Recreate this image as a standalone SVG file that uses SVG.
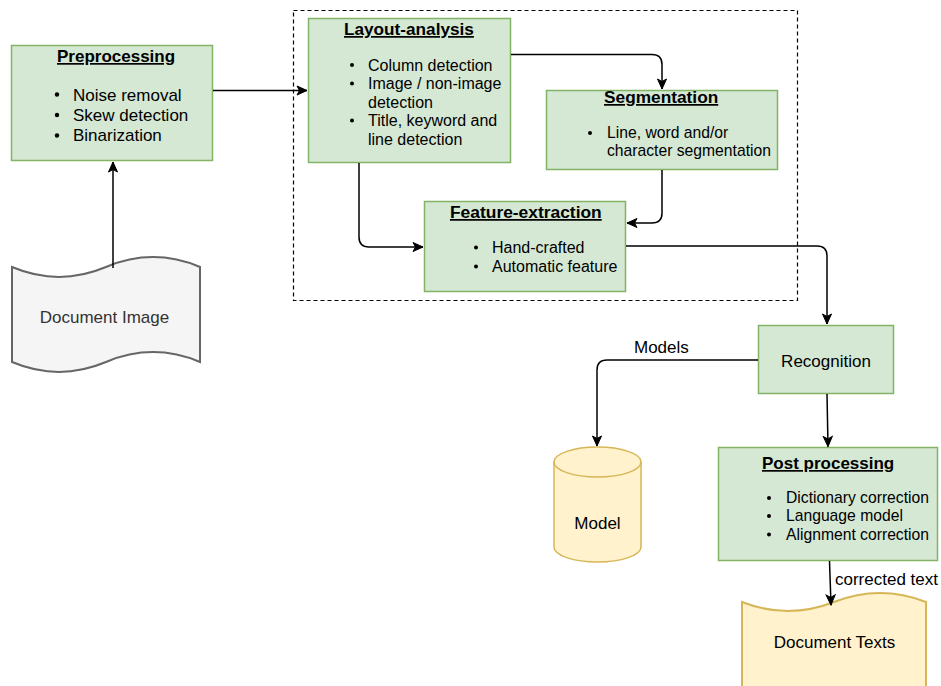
<svg xmlns="http://www.w3.org/2000/svg" width="941" height="686" viewBox="0 0 941 686">
<style>
  text { font-family: "Liberation Sans", Arial, Helvetica, sans-serif; fill: #000; }
  .box { fill: #d5e8d4; stroke: #82b366; stroke-width: 1.5; }
  .ttl { font-weight: bold; font-size: 17px; text-decoration: underline; }
  .t17 { font-size: 17px; }
  .t16 { font-size: 16px; }
  .t157 { font-size: 15.7px; }
  .dot { fill: #000; }
  .edge { fill: none; stroke: #000; stroke-width: 1.5; }
</style>
<defs>
  <marker id="arr" markerUnits="userSpaceOnUse" markerWidth="12" markerHeight="12" viewBox="0 0 12 10" refX="11" refY="5" orient="auto">
    <path d="M1,0.5 L11,5 L1,9.5 L3.5,5 Z" fill="#000" stroke="#000" stroke-width="1"/>
  </marker>
</defs>

<rect id="group-box" x="293.5" y="10.5" width="504" height="290" fill="none" stroke="#000" stroke-width="1.2" stroke-dasharray="4 3"/>

<g id="preprocessing">
  <rect class="box" x="11.5" y="45.5" width="201" height="115"/>
  <text class="ttl" x="57" y="62">Preprocessing</text>
  <circle class="dot" cx="57" cy="94.5" r="2.2"/>
  <circle class="dot" cx="57" cy="115" r="2.2"/>
  <circle class="dot" cx="57" cy="135.5" r="2.2"/>
  <text class="t17" x="73" y="100.5">Noise removal</text>
  <text class="t17" x="73" y="120.5">Skew detection</text>
  <text class="t17" x="73" y="141">Binarization</text>
</g>

<g id="layout-analysis">
  <rect class="box" x="308.5" y="18.5" width="202" height="144"/>
  <text class="ttl" x="344" y="35" style="font-size:17.2px">Layout-analysis</text>
  <circle class="dot" cx="352" cy="65" r="2"/>
  <circle class="dot" cx="352" cy="83.5" r="2"/>
  <circle class="dot" cx="352" cy="120.5" r="2"/>
  <text class="t16" x="368" y="70.5">Column detection</text>
  <text class="t16" x="368" y="89">Image / non-image</text>
  <text class="t16" x="368" y="107.5">detection</text>
  <text class="t16" x="368" y="126">Title, keyword and</text>
  <text class="t16" x="368" y="144.5">line detection</text>
</g>

<g id="segmentation">
  <rect class="box" x="546.5" y="90.5" width="231" height="79"/>
  <text class="ttl" x="604" y="103" style="font-size:17.3px">Segmentation</text>
  <circle class="dot" cx="590" cy="133" r="2"/>
  <text class="t157" x="607" y="138">Line, word and/or</text>
  <text class="t157" x="607" y="155.5">character segmentation</text>
</g>

<g id="feature-extraction">
  <rect class="box" x="424.5" y="201.5" width="201" height="90"/>
  <text class="ttl" x="450" y="218" style="font-size:17.4px">Feature-extraction</text>
  <circle class="dot" cx="476" cy="247.5" r="2"/>
  <circle class="dot" cx="476" cy="266.5" r="2"/>
  <text class="t16" x="492" y="253">Hand-crafted</text>
  <text class="t16" x="492" y="271.5">Automatic feature</text>
</g>

<g id="recognition">
  <rect class="box" x="758.5" y="325.5" width="135" height="68"/>
  <text class="t17" x="826" y="367" text-anchor="middle">Recognition</text>
</g>

<g id="post-processing">
  <rect class="box" x="718.5" y="447.5" width="219" height="113"/>
  <text class="ttl" x="762" y="469">Post processing</text>
  <circle class="dot" cx="769" cy="498" r="2"/>
  <circle class="dot" cx="769" cy="516" r="2"/>
  <circle class="dot" cx="769" cy="534.5" r="2"/>
  <text class="t157" x="786" y="503.3">Dictionary correction</text>
  <text class="t157" x="786" y="521.3">Language model</text>
  <text class="t157" x="786" y="539.7">Alignment correction</text>
</g>

<g id="model">
  <path d="M554,462 A43.5,15 0 0 1 641,462 L641,547 A43.5,15 0 0 1 554,547 Z" fill="#fff2cc" stroke="#d6b656" stroke-width="1.5"/>
  <path d="M554,462 A43.5,15 0 0 0 641,462" fill="none" stroke="#d6b656" stroke-width="1.5"/>
  <text class="t17" x="597.5" y="529" text-anchor="middle">Model</text>
</g>

<g id="document-image">
  <path d="M12,267 Q59,286.8 106,267 Q153,247.2 200,267 L200,362 Q153,342.2 106,362 Q59,381.8 12,362 Z" fill="#f5f5f5" stroke="#666666" stroke-width="2"/>
  <text class="t17" x="104.5" y="322.7" text-anchor="middle" style="fill:#333333">Document Image</text>
</g>

<g id="document-texts">
  <path d="M742,602 Q788,620 834,602 Q880,584 926,602 L926,706 Q880,688 834,706 Q788,724 742,706 Z" fill="#fff2cc" stroke="#d6b656" stroke-width="2"/>
  <text class="t17" x="834.5" y="647.7" text-anchor="middle">Document Texts</text>
</g>

<g id="connectors">
  <path class="edge" d="M213,90.5 L307,90.5" marker-end="url(#arr)"/>
  <path class="edge" d="M511,54.5 L652,54.5 Q662,54.5 662,64.5 L662,89" marker-end="url(#arr)"/>
  <path class="edge" d="M662,170 L662,213 Q662,223 652,223 L627,223" marker-end="url(#arr)"/>
  <path class="edge" d="M359,163 L359,237 Q359,247 369,247 L423,247" marker-end="url(#arr)"/>
  <path class="edge" d="M626,246 L817,246 Q827,246 827,256 L827,324" marker-end="url(#arr)"/>
  <path class="edge" d="M758,360 L607,360 Q597,360 597,370 L597,446" marker-end="url(#arr)"/>
  <path class="edge" d="M827,394 L828,446.5" marker-end="url(#arr)"/>
  <path class="edge" d="M829.5,561 L831,605" marker-end="url(#arr)"/>
  <path class="edge" d="M113,268 L113,162" marker-end="url(#arr)"/>
  <text class="t17" x="634" y="353">Models</text>
  <text class="t17" x="835" y="585">corrected text</text>
</g>
</svg>
